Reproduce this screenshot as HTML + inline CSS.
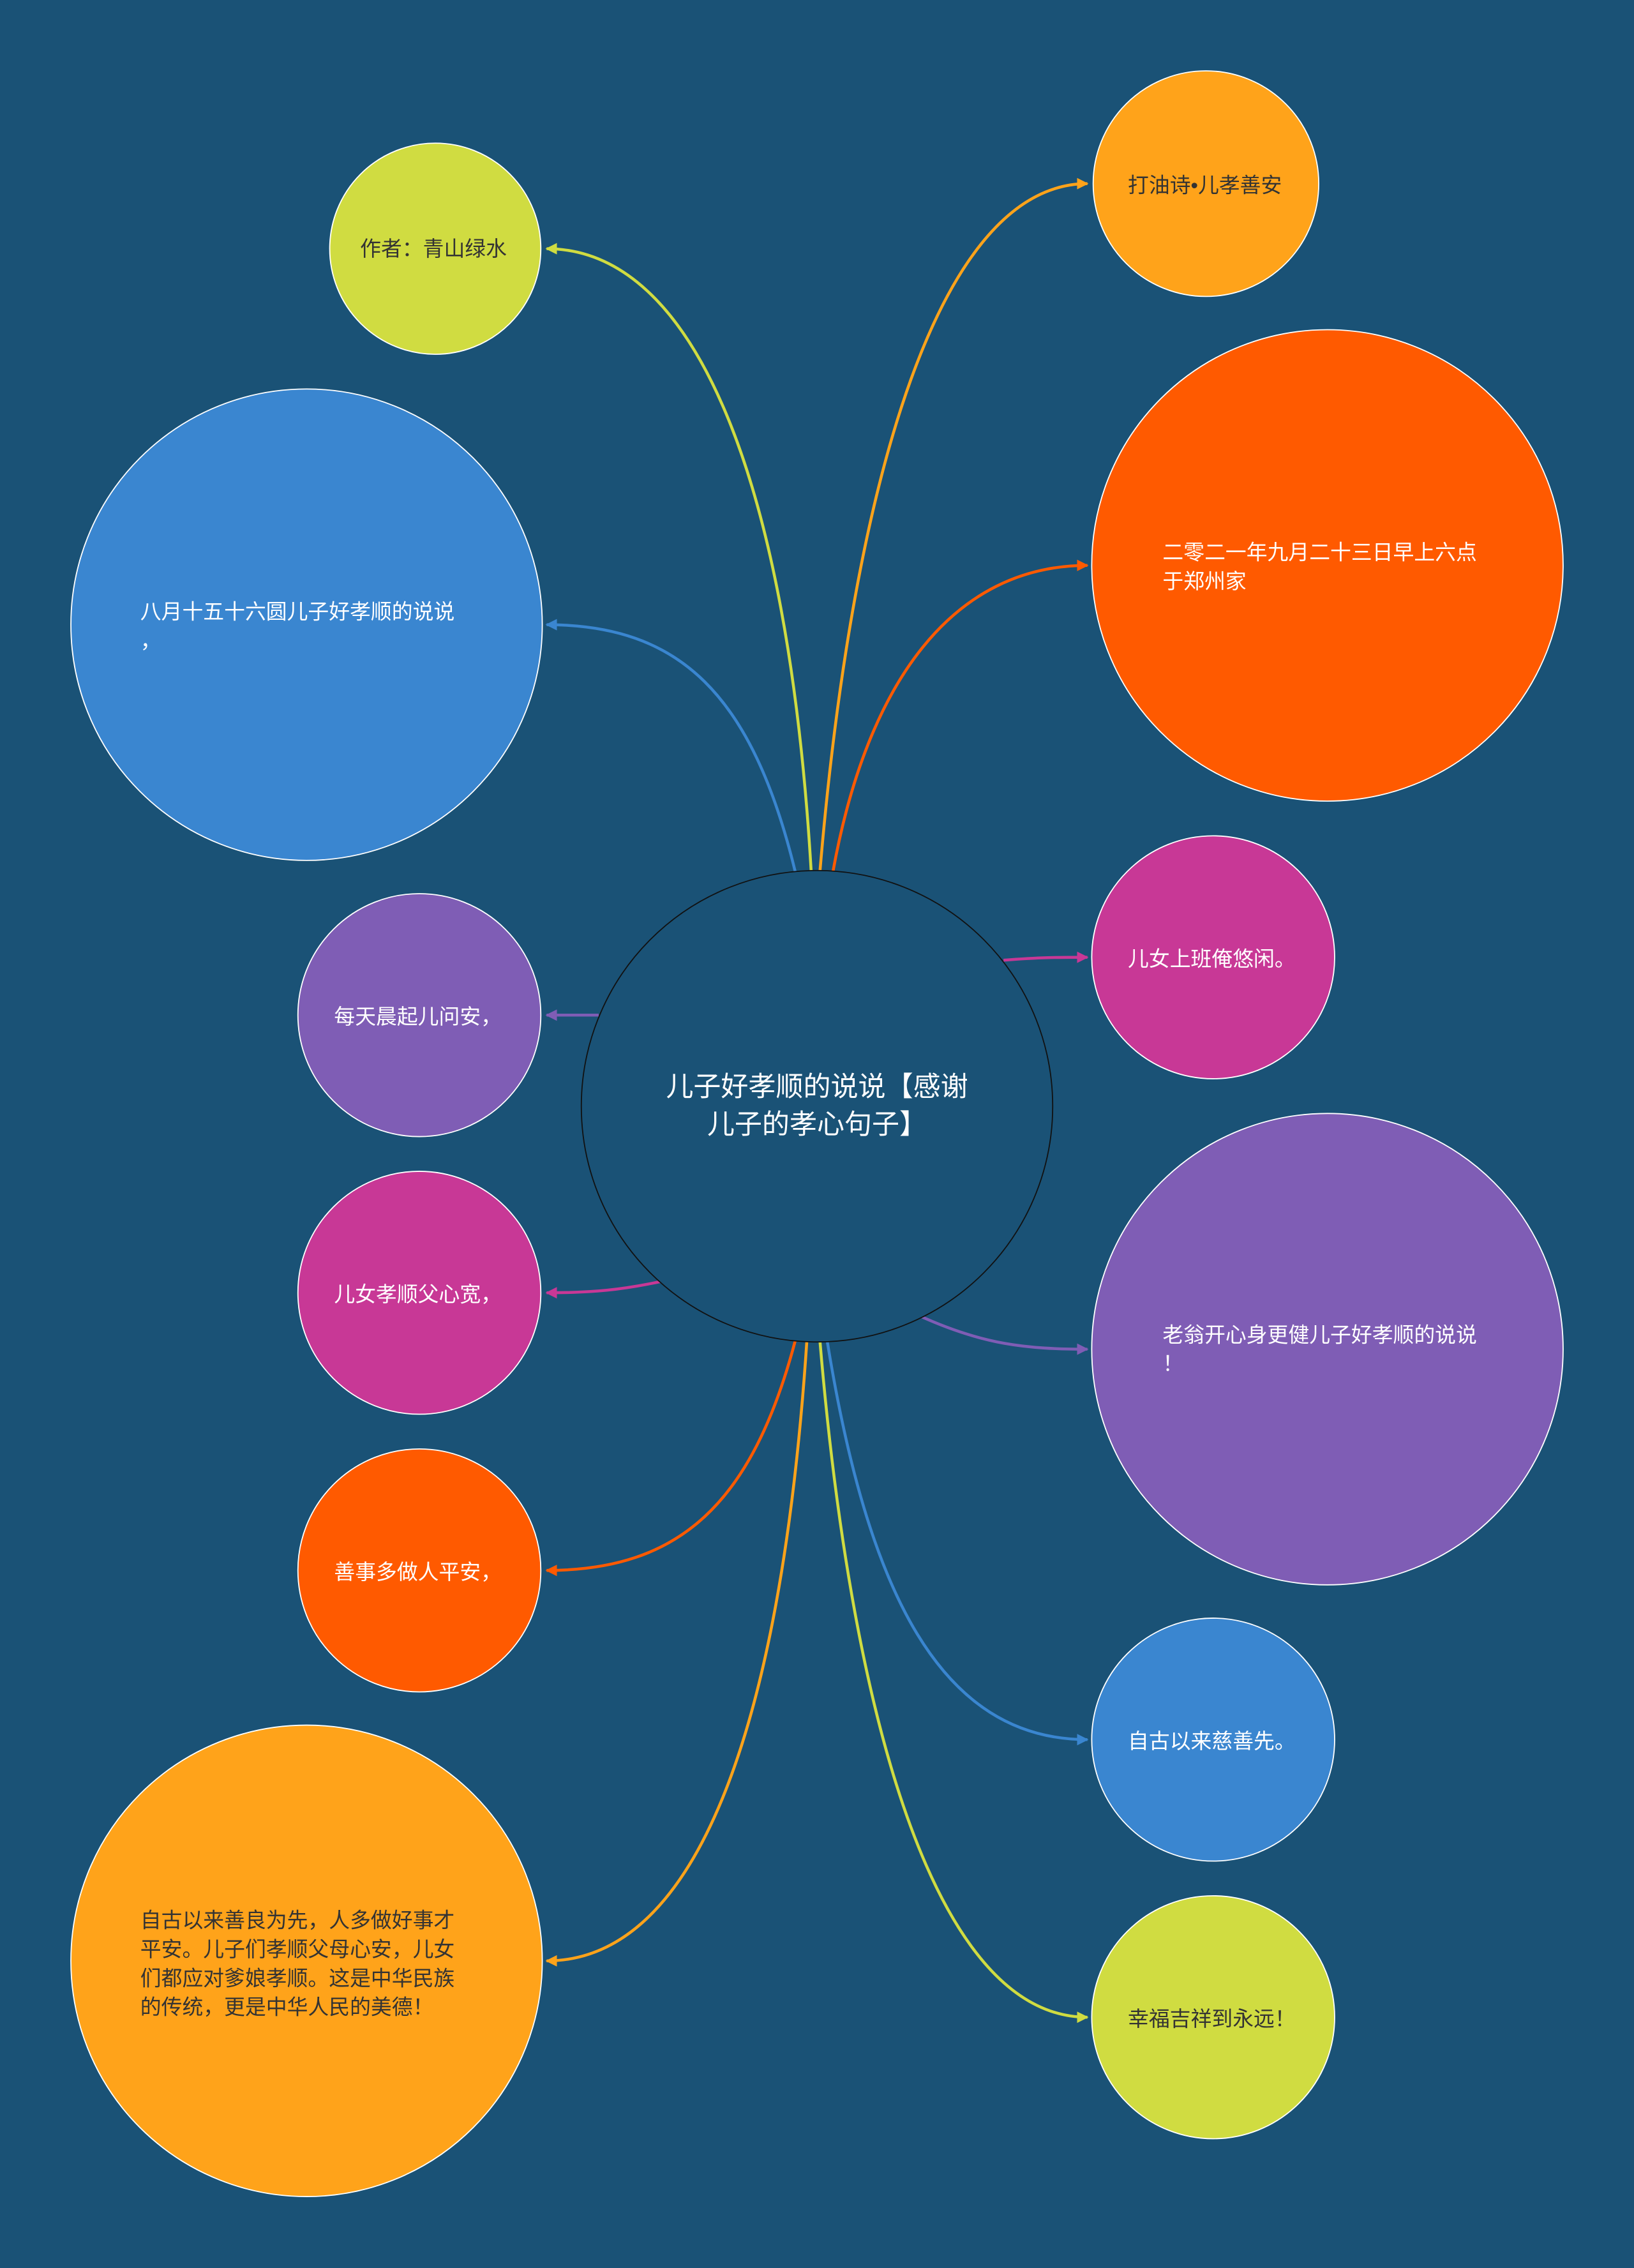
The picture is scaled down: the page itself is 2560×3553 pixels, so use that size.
<!DOCTYPE html>
<html><head><meta charset="utf-8"><style>
html,body{margin:0;padding:0;background:#1a5276;}
svg{display:block;}
text{font-family:"Liberation Sans","Noto Sans CJK SC",sans-serif;}
</style></head><body>
<svg width="2560" height="3553" viewBox="0 0 1130 1568.4" xmlns="http://www.w3.org/2000/svg">
<defs>
<marker id="my" viewBox="0 0 10 10" refX="9" refY="5" markerWidth="4" markerHeight="4" orient="auto"><path d="M0,0L10,5L0,10z" fill="#d0dc41"/></marker>
<marker id="mb" viewBox="0 0 10 10" refX="9" refY="5" markerWidth="4" markerHeight="4" orient="auto"><path d="M0,0L10,5L0,10z" fill="#3a86d0"/></marker>
<marker id="mp" viewBox="0 0 10 10" refX="9" refY="5" markerWidth="4" markerHeight="4" orient="auto"><path d="M0,0L10,5L0,10z" fill="#7f5db5"/></marker>
<marker id="mm" viewBox="0 0 10 10" refX="9" refY="5" markerWidth="4" markerHeight="4" orient="auto"><path d="M0,0L10,5L0,10z" fill="#c83896"/></marker>
<marker id="mo" viewBox="0 0 10 10" refX="9" refY="5" markerWidth="4" markerHeight="4" orient="auto"><path d="M0,0L10,5L0,10z" fill="#ff5a00"/></marker>
<marker id="ma" viewBox="0 0 10 10" refX="9" refY="5" markerWidth="4" markerHeight="4" orient="auto"><path d="M0,0L10,5L0,10z" fill="#ffa31a"/></marker>
</defs>
<rect width="1130" height="1569" fill="#1a5276"/>
<g fill="none" stroke-width="2">
<path d="M561,603 C545,330 480,172 378,172" stroke="#d0dc41" marker-end="url(#my)"/>
<path d="M550,603 C520,480 470,432 378,432" stroke="#3a86d0" marker-end="url(#mb)"/>
<path d="M414,702 L378,702" stroke="#7f5db5" marker-end="url(#mp)"/>
<path d="M458,886 C430,892 410,894 378,894" stroke="#c83896" marker-end="url(#mm)"/>
<path d="M550,927 C520,1040 470,1086 378,1086" stroke="#ff5a00" marker-end="url(#mo)"/>
<path d="M558,927 C540,1200 480,1356 378,1356" stroke="#ffa31a" marker-end="url(#ma)"/>
<path d="M567,603 C590,330 650,127 752,127" stroke="#ffa31a" marker-end="url(#ma)"/>
<path d="M576,603 C600,470 660,391 752,391" stroke="#ff5a00" marker-end="url(#mo)"/>
<path d="M694,664 C720,662 730,662 752,662" stroke="#c83896" marker-end="url(#mm)"/>
<path d="M636,910 C680,930 710,933 752,933" stroke="#7f5db5" marker-end="url(#mp)"/>
<path d="M572,927 C600,1100 650,1203 752,1203" stroke="#3a86d0" marker-end="url(#mb)"/>
<path d="M567,927 C590,1200 650,1395 752,1395" stroke="#d0dc41" marker-end="url(#my)"/>
</g>
<g stroke="#ffffff" stroke-width="0.8">
<circle cx="565" cy="765" r="163" fill="#1a5276" stroke="#111"/>
<circle cx="301" cy="172" r="73" fill="#d0dc41"/>
<circle cx="212" cy="432" r="163" fill="#3a86d0"/>
<circle cx="290" cy="702" r="84" fill="#7f5db5"/>
<circle cx="290" cy="894" r="84" fill="#c83896"/>
<circle cx="290" cy="1086" r="84" fill="#ff5a00"/>
<circle cx="212" cy="1356" r="163" fill="#ffa31a"/>
<circle cx="834" cy="127" r="78" fill="#ffa31a"/>
<circle cx="918" cy="391" r="163" fill="#ff5a00"/>
<circle cx="839" cy="662" r="84" fill="#c83896"/>
<circle cx="918" cy="933" r="163" fill="#7f5db5"/>
<circle cx="839" cy="1203" r="84" fill="#3a86d0"/>
<circle cx="839" cy="1395" r="84" fill="#d0dc41"/>
</g>
<g font-size="14.5" fill="#ffffff">
<text x="565" y="758" font-size="19" text-anchor="middle">儿子好孝顺的说说【感谢</text>
<text x="565" y="784" font-size="19" text-anchor="middle">儿子的孝心句子】</text>
<text x="249" y="177" fill="#333">作者：青山绿水</text>
<text x="97" y="428">八月十五十六圆儿子好孝顺的说说</text>
<text x="97" y="448">，</text>
<text x="231" y="708">每天晨起儿问安，</text>
<text x="231" y="900">儿女孝顺父心宽，</text>
<text x="231" y="1092">善事多做人平安，</text>
<g fill="#333">
<text x="97" y="1333">自古以来善良为先，人多做好事才</text>
<text x="97" y="1353">平安。儿子们孝顺父母心安，儿女</text>
<text x="97" y="1373">们都应对爹娘孝顺。这是中华民族</text>
<text x="97" y="1393">的传统，更是中华人民的美德！</text>
<text x="780" y="133">打油诗•儿孝善安</text>
<text x="780" y="1401">幸福吉祥到永远！</text>
</g>
<text x="804" y="387">二零二一年九月二十三日早上六点</text>
<text x="804" y="407">于郑州家</text>
<text x="780" y="668">儿女上班俺悠闲。</text>
<text x="804" y="928">老翁开心身更健儿子好孝顺的说说</text>
<text x="804" y="948">！</text>
<text x="780" y="1209">自古以来慈善先。</text>
</g>
</svg>
</body></html>
